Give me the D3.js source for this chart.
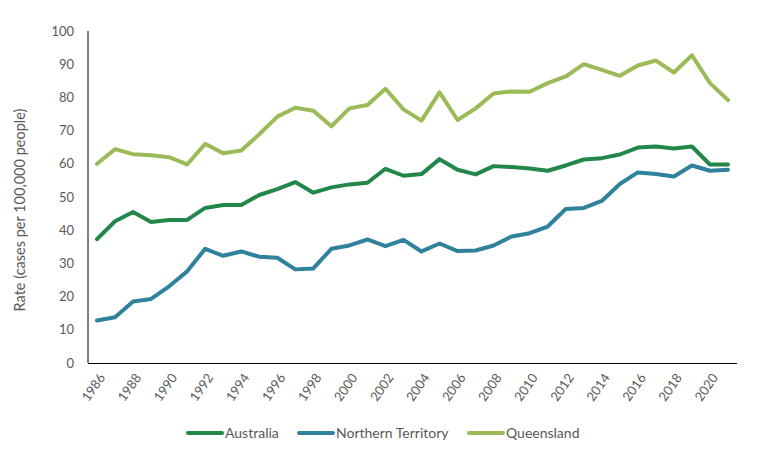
<!DOCTYPE html>
<html>
<head>
<meta charset="utf-8">
<script src="https://cdn.jsdelivr.net/npm/d3@7"></script>
<style>
  html, body { margin: 0; padding: 0; background: #fff; }
  svg { display: block; font-family: Lato, "Open Sans", "Liberation Sans", sans-serif; }
</style>
</head>
<body>
<svg id="chart" width="775" height="449"></svg>
<script>
const years = d3.range(1986, 2022);
const tickYears = [1986,1988,1990,1992,1994,1996,1998,2000,2002,2004,2006,2008,2010,2012,2014,2016,2018,2020];
const yTicks = [0,10,20,30,40,50,60,70,80,90,100];

const australia = [37.3,42.7,45.5,42.5,43.1,43.1,46.7,47.6,47.6,50.6,52.4,54.5,51.3,52.9,53.8,54.3,58.5,56.4,56.9,61.4,58.2,56.8,59.3,59.0,58.6,57.9,59.5,61.3,61.7,62.8,64.9,65.2,64.6,65.2,59.8,59.8];
const northernTerritory = [12.8,13.8,18.5,19.3,23.1,27.6,34.4,32.3,33.6,32.0,31.7,28.2,28.5,34.4,35.4,37.2,35.2,37.1,33.6,36.0,33.7,33.9,35.4,38.1,39.1,41.1,46.4,46.7,48.8,53.9,57.4,56.9,56.2,59.5,57.9,58.2];
const queensland = [60.0,64.4,62.9,62.6,62.0,59.8,66.0,63.2,64.0,68.9,74.2,76.9,76.0,71.3,76.7,77.7,82.6,76.4,73.0,81.5,73.2,76.7,81.2,81.8,81.7,84.3,86.3,90.0,88.3,86.5,89.6,91.1,87.5,92.7,84.3,79.2];

const seriesNames = ["Australia", "Northern Territory", "Queensland"];
const seriesValues = [australia, northernTerritory, queensland];
const colors = ["#23874a", "#2e829c", "#9bbb59"];

const svg = d3.select("#chart");
const mLeft = 88, mRight = 737, mTop = 31, mBottom = 363;

const x = d3.scaleBand().domain(years).range([mLeft, mRight]);
const y = d3.scaleLinear().domain([0, 100]).range([mBottom, mTop]);

// y axis labels
svg.append("g").selectAll("text").data(yTicks).join("text")
  .attr("x", mLeft - 14).attr("y", d => y(d)).attr("dy", "0.35em")
  .attr("text-anchor", "end").attr("font-size", 13).attr("fill", "#595959")
  .text(d => d);

// axes lines
svg.append("line").attr("x1", mLeft).attr("x2", mLeft).attr("y1", mTop).attr("y2", mBottom)
  .attr("stroke", "#000").attr("stroke-width", 1);
svg.append("line").attr("x1", mLeft).attr("x2", mRight).attr("y1", mBottom + 0.5).attr("y2", mBottom + 0.5)
  .attr("stroke", "#000").attr("stroke-width", 1);

// x labels
svg.append("g").selectAll("text").data(tickYears).join("text")
  .attr("transform", d => `translate(${x(d) + x.bandwidth() / 2 + 5},${mBottom + 12}) rotate(-55)`)
  .attr("text-anchor", "end").attr("dy", "0.35em")
  .attr("font-size", 13).attr("fill", "#595959")
  .text(d => d);

// y title
svg.append("text")
  .attr("transform", `translate(25,210) rotate(-90)`)
  .attr("text-anchor", "middle").attr("font-size", 14.5).attr("fill", "#595959")
  .text("Rate (cases per 100,000 people)");

// lines
const line = d3.line().x((d, i) => x(years[i]) + x.bandwidth() / 2).y(d => y(d));
seriesValues.forEach((vals, k) => {
  svg.append("path").datum(vals).attr("d", line)
    .attr("fill", "none").attr("stroke", colors[k]).attr("stroke-width", 4)
    .attr("stroke-linejoin", "round").attr("stroke-linecap", "round");
});

// legend
const legendX = [188, 299, 469];
const lg = svg.append("g");
seriesNames.forEach((name, k) => {
  lg.append("line").attr("x1", legendX[k]).attr("x2", legendX[k] + 34)
    .attr("y1", 433).attr("y2", 433).attr("stroke", colors[k]).attr("stroke-width", 4)
    .attr("stroke-linecap", "round");
  lg.append("text").attr("x", legendX[k] + 37).attr("y", 433).attr("dy", "0.35em")
    .attr("font-size", 14).attr("fill", "#595959").text(name);
});
</script>
</body>
</html>
